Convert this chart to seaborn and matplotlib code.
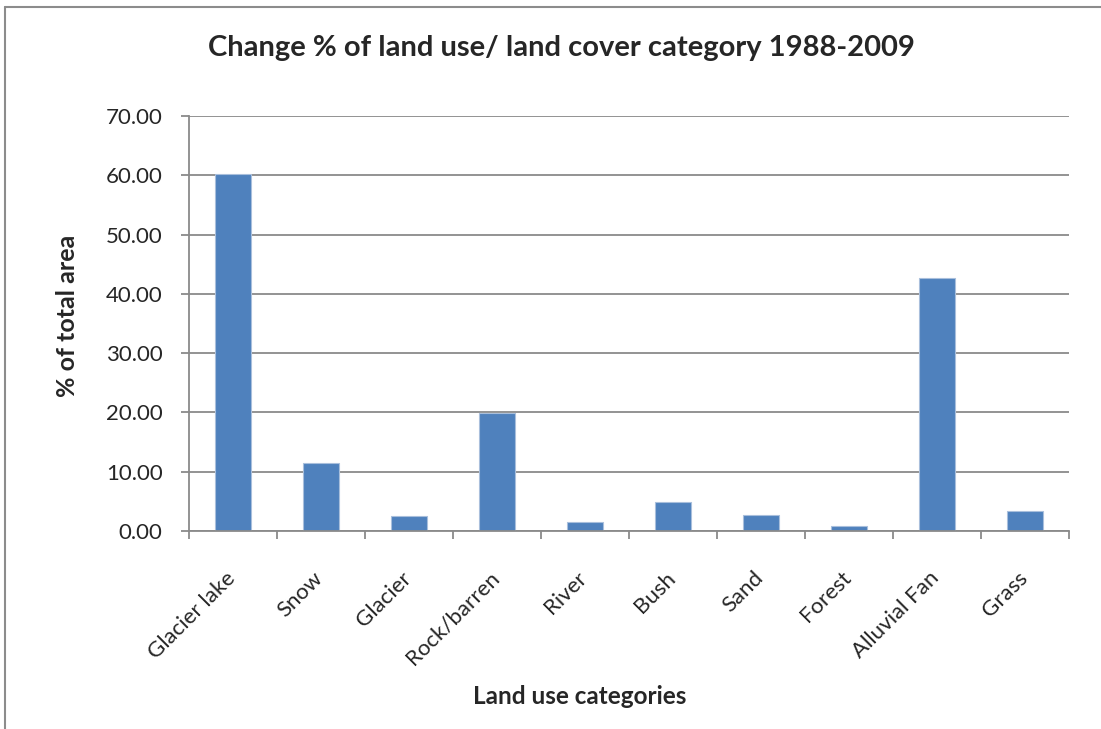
import matplotlib
matplotlib.use("Agg")
import matplotlib.pyplot as plt
import matplotlib.transforms as mtransforms
import seaborn as sns
import pandas as pd
from matplotlib.lines import Line2D

categories = ['Glacier lake', 'Snow', 'Glacier', 'Rock/barren', 'River',
              'Bush', 'Sand', 'Forest', 'Alluvial Fan', 'Grass']
change_pct = [60.3, 11.4, 2.5, 19.85, 1.47, 4.84, 2.65, 0.8, 42.6, 3.3]
y_ticks = [0, 10, 20, 30, 40, 50, 60, 70]

df = pd.DataFrame({'category': categories, 'pct': change_pct})

sns.set_theme(style="white")
plt.rcParams['font.family'] = ['Lato', 'DejaVu Sans']

W, H = 1101, 729
fig = plt.figure(figsize=(W / 100, H / 100), dpi=100)
ax = fig.add_axes([189 / W, 1 - 531 / H, 880 / W, 415 / H])

# outer chart border: only left and top edges show in the reference
fig.add_artist(Line2D([5 / W, 5 / W], [0, 1 - 7 / H], transform=fig.transFigure,
                      color='#8c8c8c', linewidth=1.5))
fig.add_artist(Line2D([5 / W, 1], [1 - 7 / H, 1 - 7 / H], transform=fig.transFigure,
                      color='#8c8c8c', linewidth=1.5))

sns.barplot(data=df, x='category', y='pct', color='#4F81BD', width=0.4,
            edgecolor='#a9bfdc', linewidth=0.8, saturation=1, ax=ax)

ax.set_ylim(0, 70)
ax.set_xlim(-0.5, len(categories) - 0.5)
ax.set_yticks(y_ticks)
ax.set_yticklabels([f'{v:.2f}' for v in y_ticks], fontsize=16)
ax.yaxis.grid(True, color='#8a8a8a', linewidth=1.3)
ax.set_axisbelow(True)

ax.set_xticks(range(len(categories)))
ax.set_xticklabels(categories, rotation=45, ha='right', rotation_mode='anchor', fontsize=16)
ax.set_xticks([i - 0.5 for i in range(len(categories) + 1)], minor=True)
ax.tick_params(axis='x', which='major', length=0, pad=12)
ax.tick_params(axis='x', which='minor', length=6, width=1.3, color='#8a8a8a', direction='out', bottom=True)
ax.tick_params(axis='y', length=6, width=1.3, color='#8a8a8a', direction='out', left=True, pad=13)

for side in ['top', 'right']:
    ax.spines[side].set_visible(False)
for side in ['left', 'bottom']:
    ax.spines[side].set_color('#8a8a8a')
    ax.spines[side].set_linewidth(1.3)

ax.set_xlabel('Land use categories', fontsize=17.5, fontweight='bold', va='center')
ax.xaxis.set_label_coords((580 - 189) / 880, (531 - 697) / 415)
ax.set_ylabel('% of total area', fontsize=18, fontweight='bold', va='center')
ax.yaxis.set_label_coords((68 - 189) / 880, (531 - 316) / 415)
fig.text(561 / W, 1 - 48 / H, 'Change % of land use/ land cover category 1988-2009',
         ha='center', va='center', fontsize=21, fontweight='bold')

# nudge the rotated category labels down-left, after tick_params
shift = mtransforms.ScaledTranslation(-8 / 100, -20 / 100, fig.dpi_scale_trans)
for lbl in ax.get_xticklabels():
    lbl.set_transform(lbl.get_transform() + shift)

fig.savefig('out.png', dpi=100, facecolor='white')
